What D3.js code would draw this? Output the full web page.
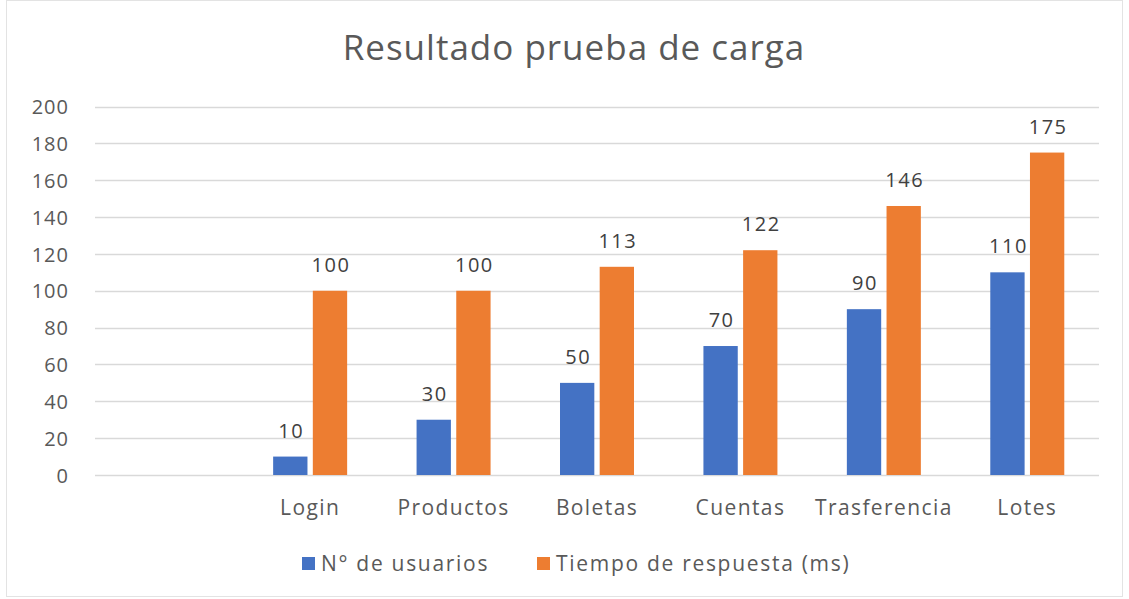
<!DOCTYPE html>
<html lang="es">
<head>
<meta charset="UTF-8">
<title>Resultado prueba de carga</title>
<script src="https://cdn.jsdelivr.net/npm/d3@7"></script>
<style>
    body { margin: 0; background: #fff; }
    .chart text { font-family: "Open Sans", "Noto Sans", sans-serif; fill: #595959; }
</style>
</head>
<body>
<svg class="chart"></svg>
<script>
    // datos
    let categories = ['', 'Login', 'Productos', 'Boletas', 'Cuentas', 'Trasferencia', 'Lotes'];
    let usuarios = [null, 10, 30, 50, 70, 90, 110];
    let tiempo = [null, 100, 100, 113, 122, 146, 175];
    let seriesNames = ['N° de usuarios', 'Tiempo de respuesta (ms)'];
    let seriesColors = ['#4472C4', '#ED7D31'];
    let yTicks = [0, 20, 40, 60, 80, 100, 120, 140, 160, 180, 200];

    let width = 1129, height = 599;
    let plotLeft = 95, plotRight = 1099, plotTop = 106.5, plotBottom = 475;

    let svg = d3.select('.chart')
        .attr('width', width)
        .attr('height', height);

    // borde tenue
    svg.append('rect')
        .attr('x', 6.5).attr('y', 0.5)
        .attr('width', width - 13).attr('height', height - 3)
        .attr('fill', 'none')
        .attr('stroke', '#e3e3e3');

    let x = d3.scaleBand()
        .domain(categories.map((d, i) => i))
        .range([plotLeft, plotRight])
        .padding(0);

    let xs = d3.scaleBand()
        .domain([0, 1])
        .range([0, 74])
        .paddingInner(0.135);

    let y = d3.scaleLinear()
        .domain([0, 200])
        .range([plotBottom, plotTop]);

    // lineas de cuadricula
    svg.append('g')
        .selectAll('line')
        .data(yTicks)
        .enter().append('line')
        .attr('x1', plotLeft).attr('x2', plotRight)
        .attr('y1', d => Math.round(y(d)) + 0.5)
        .attr('y2', d => Math.round(y(d)) + 0.5)
        .attr('stroke', '#d9d9d9')
        .attr('stroke-width', 1.5);

    // eje y
    let yAxis = svg.append('g')
        .attr('transform', 'translate(69,0)')
        .call(d3.axisLeft(y).tickValues(yTicks).tickSize(0).tickPadding(0));
    yAxis.select('.domain').remove();
    yAxis.selectAll('text')
        .style('font-size', '20px')
        .style('letter-spacing', '1px')
        .attr('dy', '0.36em');

    // eje x
    let xAxis = svg.append('g')
        .attr('transform', 'translate(0,' + plotBottom + ')')
        .call(d3.axisBottom(x).tickFormat(i => categories[i]).tickSize(0).tickPadding(25));
    xAxis.select('.domain').remove();
    xAxis.selectAll('text')
        .style('font-size', '21px')
        .style('letter-spacing', '1.4px');

    let rows = [];
    categories.forEach((c, i) => {
        if (usuarios[i] != null) rows.push({i: i, s: 0, v: usuarios[i]});
        if (tiempo[i] != null) rows.push({i: i, s: 1, v: tiempo[i]});
    });

    let bx = d => x(d.i) + (x.bandwidth() - 74) / 2 + xs(d.s);

    svg.append('g')
        .selectAll('rect')
        .data(rows)
        .enter().append('rect')
        .attr('x', bx)
        .attr('y', d => y(d.v))
        .attr('width', xs.bandwidth())
        .attr('height', d => y(0) - y(d.v))
        .attr('fill', d => seriesColors[d.s]);

    // etiquetas de datos
    svg.append('g')
        .selectAll('text')
        .data(rows)
        .enter().append('text')
        .attr('x', d => bx(d) + xs.bandwidth() / 2 + 1)
        .attr('y', d => y(d.v) - 19)
        .attr('text-anchor', 'middle')
        .style('font-size', '20px')
        .style('letter-spacing', '1.5px')
        .style('fill', '#404040')
        .text(d => d.v);

    // titulo
    svg.append('text')
        .attr('x', 574)
        .attr('y', 60)
        .attr('text-anchor', 'middle')
        .style('font-size', '35px')
        .style('letter-spacing', '1px')
        .text('Resultado prueba de carga');

    // leyenda
    let legendX = [302, 537];
    let legend = svg.append('g')
        .selectAll('g')
        .data(seriesNames)
        .enter().append('g')
        .attr('transform', (d, i) => 'translate(' + legendX[i] + ',557)');
    legend.append('rect')
        .attr('width', 13).attr('height', 13)
        .attr('fill', (d, i) => seriesColors[i]);
    legend.append('text')
        .attr('x', 19)
        .attr('y', 7)
        .attr('dy', '0.35em')
        .style('font-size', '21px')
        .style('letter-spacing', '1.7px')
        .text(d => d);
</script>
</body>
</html>
